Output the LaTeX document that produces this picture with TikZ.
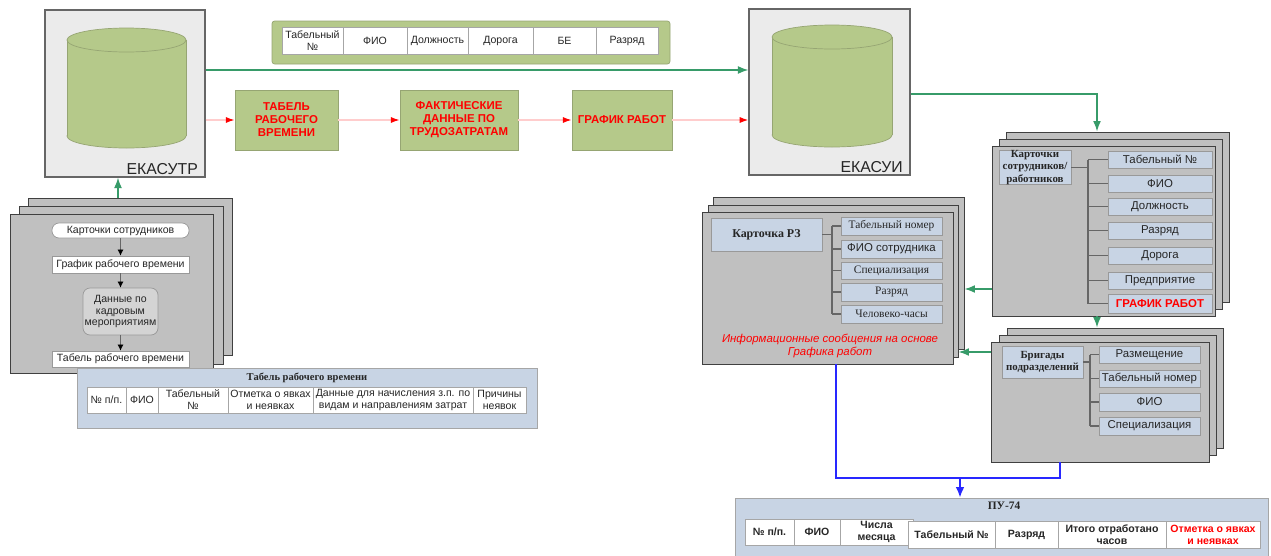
\documentclass[tikz,border=0pt]{standalone}
\usepackage{fontspec}
\setmainfont{Liberation Sans}
\newfontfamily\timesfont{Liberation Serif}
\usetikzlibrary{arrows.meta,positioning,calc}

\definecolor{olivebox}{RGB}{181,201,138}
\definecolor{olivedark}{RGB}{150,165,115}
\definecolor{lightgraybox}{RGB}{235,235,235}
\definecolor{stackgray}{RGB}{192,192,192}
\definecolor{flowgray}{RGB}{212,212,212}
\definecolor{cardblue}{RGB}{200,212,228}
\definecolor{flowgreen}{RGB}{55,155,105}
\definecolor{pinkline}{RGB}{255,205,205}
\definecolor{linkblue}{RGB}{40,40,255}

\tikzset{
  spanbox/.style args={#1/#2/#3/#4}{at={({(#1+#3)/2},{(#2+#4)/2})},
    minimum width={(#3-#1)*0.02cm}, minimum height={(#4-#2)*0.02cm}},
  sysbox/.style={draw=black!60, fill=lightgraybox, inner sep=0pt, line width=0.6pt},
  syslabel/.style={inner sep=1.2pt, font=\fontsize{9}{10}\selectfont, text=black!85},
  dbcyl/.style={draw=olivedark, fill=olivebox, line width=0.4pt},
  stackbox/.style={draw=black!75, fill=stackgray, inner sep=0pt, line width=0.5pt},
  greenbox/.style={draw=olivedark, fill=olivebox, inner sep=0pt, align=center, text=red,
    font=\fontsize{6.5}{7.4}\selectfont\bfseries},
  tcell/.style={draw=black!35, fill=white, inner sep=0pt, align=center,
    font=\fontsize{6}{6.8}\selectfont, text=black!85},
  cardbox/.style={draw=black!40, fill=cardblue, inner sep=0pt, align=center,
    font=\fontsize{6.5}{7.5}\selectfont, text=black!85},
  cardtitle/.style={cardbox, font=\fontsize{6.2}{6.9}\selectfont\timesfont\bfseries},
  flowbox/.style={draw=black!40, fill=white, inner sep=0pt, align=center,
    font=\fontsize{6}{6.8}\selectfont, text=black!85},
  greenarrow/.style={flowgreen, line width=0.9pt, -{Latex[length=6pt,width=4.5pt]}},
  redarrow/.style={pinkline, line width=0.8pt, -{Latex[length=5pt,width=3.5pt,color=red]}},
  blackarrow/.style={black!60, line width=0.5pt, -{Latex[length=3.5pt,width=3.5pt,color=black]}},
  treeline/.style={black!60, line width=0.6pt},
  bluelink/.style={linkblue, line width=1.1pt},
}

\begin{document}
\begin{tikzpicture}[x=0.02cm, y=-0.02cm]
  \useasboundingbox (0,0) rectangle (1271,555);

  % ЕКАСУТР
  \node[sysbox, spanbox=45/10/205/177] (ekasutr) {};
  \filldraw[dbcyl] (126.5,136) ellipse [x radius=1.19cm, y radius=0.24cm];
  \fill[olivebox] (67,40) rectangle (186,136);
  \draw[dbcyl] (67,40) -- (67,136) (186,40) -- (186,136);
  \filldraw[dbcyl] (126.5,40) ellipse [x radius=1.19cm, y radius=0.24cm];
  \node[syslabel, anchor=south east] (ekasutrlbl) at ([xshift=-3pt]ekasutr.south east) {ЕКАСУТР};

  % ЕКАСУИ
  \node[sysbox, spanbox=749/9/910/175] (ekasui) {};
  \filldraw[dbcyl] (832,135) ellipse [x radius=1.2cm, y radius=0.24cm];
  \fill[olivebox] (772,37) rectangle (892,135);
  \draw[dbcyl] (772,37) -- (772,135) (892,37) -- (892,135);
  \filldraw[dbcyl] (832,37) ellipse [x radius=1.2cm, y radius=0.24cm];
  \node[syslabel, anchor=south east] (ekasuilbl) at ([xshift=-3pt]ekasui.south east) {ЕКАСУИ};

  % top table
  \node[draw=olivedark, fill=olivebox, rounded corners=1.5pt, inner sep=0pt,
        spanbox=272/21/670/64] (toptab) {};
  \foreach \a/\b/\t [count=\i] in {282/343/{Табельный\\№}, 343/407/ФИО, 407/468/Должность,
      468/533/Дорога, 533/596/БЕ, 596/658/Разряд}
    \node[tcell, spanbox=\a/27/\b/54] (top\i) {\t};

  % green boxes
  \node[greenbox, spanbox=235/90/338/150] (tab) {ТАБЕЛЬ\\РАБОЧЕГО\\ВРЕМЕНИ};
  \node[greenbox, spanbox=400/90/518/150] (fakt) {ФАКТИЧЕСКИЕ\\ДАННЫЕ ПО\\ТРУДОЗАТРАТАМ};
  \node[greenbox, spanbox=572/90/672/150] (graf) {ГРАФИК РАБОТ};

  \draw[greenarrow] (ekasutr.east |- 0,70) -- (ekasui.west |- 0,70);
  \draw[redarrow] (ekasutr.east |- tab.west) -- (tab.west);
  \draw[redarrow] (tab) -- (fakt);
  \draw[redarrow] (fakt) -- (graf);
  \draw[redarrow] (graf.east) -- (ekasui.west |- graf.east);

  % left stack
  \node[stackbox, spanbox=28/198/232/355] (lst3) {};
  \node[stackbox, spanbox=19/206/223/364] (lst2) {};
  \node[stackbox, spanbox=10/214/213/373] (lst1) {};
  \node[flowbox, rounded corners=4pt, spanbox=52/223/189/238] (fl1) {Карточки сотрудников};
  \node[flowbox, spanbox=52/256/189/273] (fl2) {График рабочего времени};
  \node[flowbox, fill=flowgray, rounded corners=4pt, spanbox=83/288/158/335] (fl3) {Данные по\\кадровым\\мероприятиям};
  \node[flowbox, spanbox=52/351/189/367] (fl4) {Табель рабочего времени};
  \draw[blackarrow] (fl1.south) -- (fl2.north);
  \draw[blackarrow] (fl2.south) -- (fl3.north);
  \draw[blackarrow] (fl3.south) -- (fl4.north);
  \draw[greenarrow] (lst3.north -| 118,0) -- (ekasutr.south -| 118,0);

  % табель table
  \node[draw=black!35, fill=cardblue, inner sep=0pt, spanbox=77/368/537/428] (tabtab) {};
  \node[font=\fontsize{6}{7}\selectfont\timesfont\bfseries, text=black!85] (tabtitle) at (307,377.5) {Табель рабочего времени};
  \foreach \a/\b/\t [count=\i] in {87/126/{№ п/п.}, 126/158/ФИО, 158/228/{Табельный\\№},
      228/313/{Отметка о явках\\и неявках}, 313/473/{Данные для начисления з.п. по\\видам и направлениям затрат},
      473/526/{Причины\\неявок}}
    \node[tcell, spanbox=\a/387/\b/413] (tt\i) {\t};

  % карточки сотрудников
  \node[stackbox, spanbox=1006/132/1229/302] (kart3) {};
  \node[stackbox, spanbox=999/139/1222/309] (kart2) {};
  \node[stackbox, spanbox=992/146/1215/316] (kart1) {};
  \node[cardtitle, spanbox=999/151/1071/184] (kt) {Карточки\\сотрудников/\\работников};
  \foreach \ya/\yb/\t [count=\i] in {151/168/{Табельный №}, 175/192/ФИО, 198/215/Должность,
      222/239/Разряд, 247/264/Дорога, 272/289/Предприятие}
    \node[cardbox, spanbox=1108/\ya/1212/\yb] (k\i) {\t};
  \node[cardbox, text=red, font=\fontsize{6.5}{7.5}\selectfont\bfseries, spanbox=1108/294/1212/313] (k7) {ГРАФИК РАБОТ};
  \draw[treeline] (kt.east) -- (kt.east -| 1088,0);
  \draw[treeline] (k1.west -| 1088,0) -- (k7.west -| 1088,0);
  \foreach \i in {1,...,7}
    \draw[treeline] (k\i.west) -- (k\i.west -| 1088,0);

  % бригады
  \node[stackbox, spanbox=1007/328/1223/448] (brig3) {};
  \node[stackbox, spanbox=999/335/1216/455] (brig2) {};
  \node[stackbox, spanbox=991/342/1209/462] (brig1) {};
  \node[cardtitle, spanbox=1002/346/1083/378] (bt) {Бригады\\подразделений};
  \foreach \ya/\yb/\t [count=\i] in {346/363/Размещение, 370/387/{Табельный номер},
      393/411/ФИО, 417/435/Специализация}
    \node[cardbox, spanbox=1099/\ya/1200/\yb] (b\i) {\t};
  \draw[treeline] (bt.east) -- (bt.east -| 1090,0);
  \draw[treeline] (b1.west -| 1090,0) -- (b4.west -| 1090,0);
  \foreach \i in {1,...,4}
    \draw[treeline] (b\i.west) -- (b\i.west -| 1090,0);

  % карточка РЗ
  \node[stackbox, spanbox=713/197/964/349] (rz3) {};
  \node[stackbox, spanbox=708/205/958/357] (rz2) {};
  \node[stackbox, spanbox=702/212/953/364] (rz1) {};
  \node[cardtitle, font=\fontsize{6.8}{7.5}\selectfont\timesfont\bfseries, spanbox=711/218/822/251] (rt) {Карточка РЗ};
  \foreach \ya/\yb/\t [count=\i] in {217/235/{\timesfont Табельный номер}, 240/258/{ФИО сотрудника},
      262/279/{\timesfont Специализация}, 283/301/{\timesfont Разряд}, 305/323/{\timesfont Человеко-часы}}
    \node[cardbox, spanbox=841/\ya/942/\yb] (r\i) {\t};
  \draw[treeline, line width=0.9pt] (rt.east) -- (rt.east -| 832,0);
  \draw[treeline] (r1.west -| 832,0) -- (r5.west -| 832,0);
  \foreach \i in {1,...,5}
    \draw[treeline] (r\i.west) -- (r\i.west -| 832,0);
  \node[align=center, text=red, font=\fontsize{6.5}{7}\selectfont\itshape] (rzinfo) at (830,346)
    {Информационные сообщения на основе\\Графика работ};

  % green links on the right
  \draw[greenarrow] (ekasui.east |- 0,94) -| (kart3.north -| 1097,0);
  \draw[greenarrow] (kart1.west |- 0,289) -- (rz3.east |- 0,289);
  \draw[greenarrow] (kart1.south -| 1097,0) -- (brig3.north -| 1097,0);
  \draw[greenarrow] (brig1.west |- 0,352) -- (rz2.east |- 0,352);

  % ПУ-74
  \node[draw=black!35, fill=cardblue, inner sep=0pt, spanbox=735/498/1268/560] (pu) {};
  \node[font=\fontsize{6.5}{7}\selectfont\timesfont\bfseries, text=black!85] (putitle) at (1004,506) {ПУ-74};
  \foreach \a/\b/\t [count=\i] in {745/794/{№ п/п.}, 794/840/ФИО, 840/913/{Числа\\месяца}}
    \node[tcell, font=\fontsize{6}{6.8}\selectfont\bfseries, spanbox=\a/519/\b/545] (pa\i) {\t};
  \foreach \a/\b/\t [count=\i] in {908/995/{Табельный №}, 995/1058/Разряд, 1058/1166/{Итого отработано\\часов}}
    \node[tcell, font=\fontsize{6}{6.8}\selectfont\bfseries, spanbox=\a/521/\b/548] (pb\i) {\t};
  \node[tcell, text=red, font=\fontsize{6}{6.8}\selectfont\bfseries, spanbox=1166/521/1260/548] (pb4) {Отметка о явках\\и неявках};

  % blue link
  \coordinate (bluejoin) at (960,478);
  \draw[bluelink] (rz1.south -| 836,0) |- (bluejoin) -| (brig1.south -| 1060,0);
  \draw[bluelink, -{Latex[length=6pt,width=5pt]}] (bluejoin) -- (pu.north -| bluejoin);
\end{tikzpicture}
\end{document}
